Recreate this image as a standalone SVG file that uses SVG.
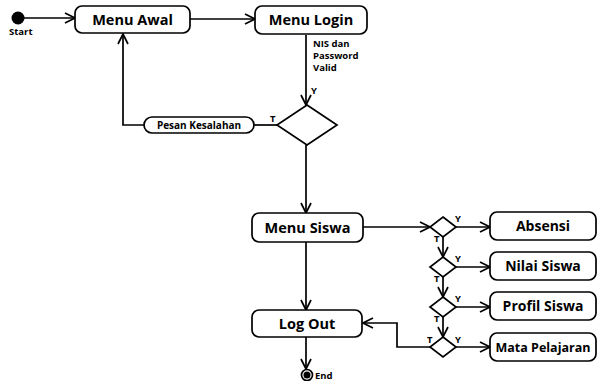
<svg xmlns="http://www.w3.org/2000/svg" width="601" height="381" viewBox="0 0 601 381">
  <style>
    .box { fill: #ffffff; stroke: #000000; stroke-width: 1.7; }
    .dia { fill: #ffffff; stroke: #000000; stroke-width: 1.7; }
    .ln { fill: none; stroke: #000000; stroke-width: 1.7; }
    .arr { fill: none; stroke: #000000; stroke-width: 1.7; marker-end: url(#head); }
    .t { font-family: "Open Sans", "Liberation Sans", sans-serif; font-weight: bold; fill: #000000; text-anchor: middle; }
    .big { font-size: 14.5px; }
    .mid { font-size: 14px; }
    .sm { font-size: 10px; }
    .lbl { font-family: "Open Sans", "Liberation Sans", sans-serif; font-weight: bold; fill: #000000; font-size: 9.5px; }
  </style>
  <defs>
    <marker id="head" viewBox="0 0 12 12" refX="11" refY="6" markerWidth="12" markerHeight="12" markerUnits="userSpaceOnUse" orient="auto">
      <path d="M1,1 L11,6 L1,11" fill="none" stroke="#000000" stroke-width="1.7"/>
    </marker>
  </defs>

  <!-- connectors -->
  <g id="connectors">
    <line class="arr" x1="24" y1="18" x2="75" y2="18"/>
    <line class="arr" x1="190" y1="19" x2="255" y2="19"/>
    <line class="arr" x1="306" y1="35" x2="306" y2="105"/>
    <line class="ln" x1="277" y1="125" x2="254" y2="125"/>
    <polyline class="arr" points="144,125 123,125 123,34"/>
    <line class="arr" x1="306" y1="145" x2="306" y2="213"/>
    <line class="arr" x1="363" y1="227" x2="430" y2="227"/>
    <line class="arr" x1="456" y1="227" x2="490" y2="227"/>
    <line class="arr" x1="443" y1="237" x2="443" y2="257"/>
    <line class="arr" x1="456" y1="267" x2="490" y2="267"/>
    <line class="arr" x1="443" y1="277" x2="443" y2="297"/>
    <line class="arr" x1="456" y1="307" x2="490" y2="307"/>
    <line class="arr" x1="443" y1="317" x2="443" y2="337"/>
    <line class="arr" x1="456" y1="347" x2="490" y2="347"/>
    <polyline class="arr" points="430,347 397,347 397,323 363,323"/>
    <line class="arr" x1="306" y1="242" x2="306" y2="310"/>
    <line class="arr" x1="306" y1="337" x2="306" y2="369"/>
  </g>

  <!-- edge labels -->
  <g id="edge-labels">
    <text class="lbl" x="313" y="47">NIS dan</text>
    <text class="lbl" x="313" y="59">Password</text>
    <text class="lbl" x="313" y="71">Valid</text>
    <text class="lbl" x="311" y="94">Y</text>
    <text class="lbl" x="270" y="122">T</text>
    <text class="lbl" x="455" y="222">Y</text>
    <text class="lbl" x="434" y="242">T</text>
    <text class="lbl" x="455" y="262">Y</text>
    <text class="lbl" x="434" y="282">T</text>
    <text class="lbl" x="455" y="302">Y</text>
    <text class="lbl" x="434" y="322">T</text>
    <text class="lbl" x="427" y="343">T</text>
    <text class="lbl" x="455" y="343">Y</text>
  </g>

  <g id="start">
    <circle cx="18" cy="18" r="6.5" fill="#000000"/>
    <text class="lbl" x="9" y="35">Start</text>
  </g>

  <g id="menu-awal">
    <rect class="box" x="75" y="6" width="115" height="27" rx="7"/>
    <text class="t big" x="132.5" y="24.5">Menu Awal</text>
  </g>

  <g id="menu-login">
    <rect class="box" x="255" y="6" width="112" height="28" rx="7"/>
    <text class="t big" x="311" y="25">Menu Login</text>
  </g>

  <g id="decision-login">
    <polygon class="dia" points="307,105 337,125 307,145 277,125"/>
  </g>

  <g id="pesan-kesalahan">
    <rect class="box" x="144" y="117" width="110" height="16" rx="8"/>
    <text class="t sm" x="199" y="128.5">Pesan Kesalahan</text>
  </g>

  <g id="menu-siswa">
    <rect class="box" x="252" y="213" width="111" height="29" rx="7"/>
    <text class="t big" x="307.5" y="232.5">Menu Siswa</text>
  </g>

  <g id="decision-1"><polygon class="dia" points="443,217 456,227 443,237 430,227"/></g>
  <g id="decision-2"><polygon class="dia" points="443,257 456,267 443,277 430,267"/></g>
  <g id="decision-3"><polygon class="dia" points="443,297 456,307 443,317 430,307"/></g>
  <g id="decision-4"><polygon class="dia" points="443,337 456,347 443,357 430,347"/></g>

  <g id="absensi">
    <rect class="box" x="490" y="212" width="106" height="28" rx="7"/>
    <text class="t mid" x="543" y="231">Absensi</text>
  </g>
  <g id="nilai-siswa">
    <rect class="box" x="490" y="252" width="106" height="28" rx="7"/>
    <text class="t mid" x="543" y="271">Nilai Siswa</text>
  </g>
  <g id="profil-siswa">
    <rect class="box" x="490" y="292" width="106" height="28" rx="7"/>
    <text class="t mid" x="543" y="311">Profil Siswa</text>
  </g>
  <g id="mata-pelajaran">
    <rect class="box" x="490" y="333" width="106" height="28" rx="7"/>
    <text class="t" x="543" y="351.5" style="font-size:12.5px">Mata Pelajaran</text>
  </g>

  <g id="log-out">
    <rect class="box" x="252" y="310" width="110" height="27" rx="7"/>
    <text class="t big" x="307" y="329">Log Out</text>
  </g>

  <g id="end">
    <circle cx="307" cy="375" r="5.5" fill="#ffffff" stroke="#000000" stroke-width="1.7"/>
    <circle cx="307" cy="375" r="3.5" fill="#000000"/>
    <text class="lbl" x="315" y="379">End</text>
  </g>
</svg>
